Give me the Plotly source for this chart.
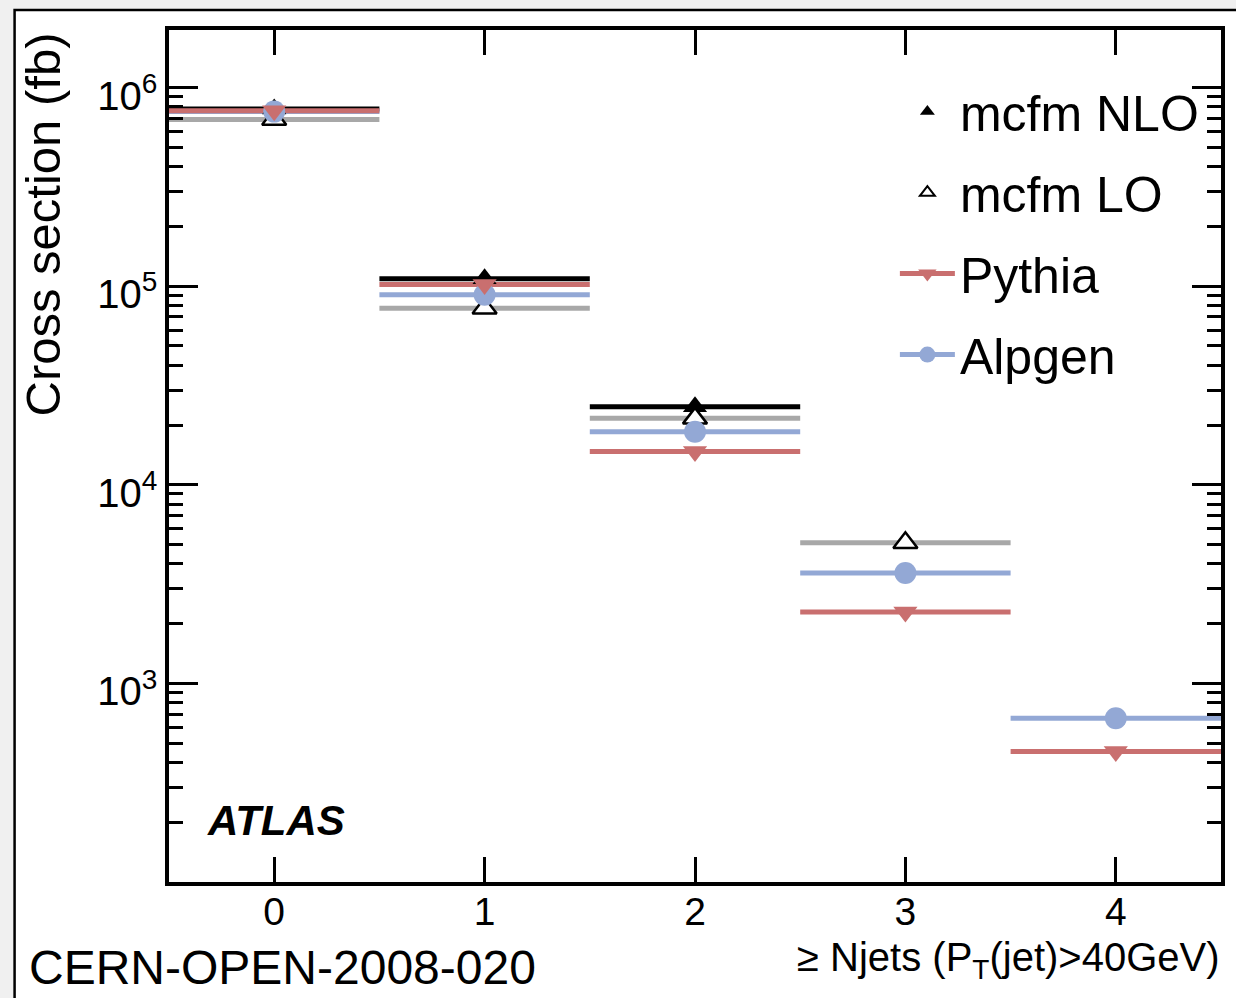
import plotly.graph_objects as go

# ---- data ----
njets = [0, 1, 2, 3, 4]
mcfm_nlo = [7.8e5, 1.09e5, 2.47e4, None, None]
mcfm_lo = [6.9e5, 7.74e4, 2.16e4, 5.11e3, None]
alpgen = [7.57e5, 9.06e4, 1.85e4, 3.6e3, 667]
pythia = [7.65e5, 1.02e5, 1.47e4, 2.29e3, 454]
ytick_vals = [1e3, 1e4, 1e5, 1e6]
ytick_text = ["10<sup>3</sup>", "10<sup>4</sup>", "10<sup>5</sup>", "10<sup>6</sup>"]

BLACK = "#000000"
GREY = "#a8a8a8"
BLUE = "#93a8d5"
RED = "#c96f6f"
FONT = "Liberation Sans, Arial, sans-serif"

def segments(vals):
    xs, ys = [], []
    for c, v in zip(njets, vals):
        if v is None:
            continue
        xs += [c - 0.5, c + 0.5, None]
        ys += [v, v, None]
    return xs, ys

fig = go.Figure()

series = [
    ("mcfm NLO", mcfm_nlo, BLACK, "triangle-up", dict(color=BLACK, size=21)),
    ("mcfm LO", mcfm_lo, GREY, "triangle-up", dict(color="white", size=21, line=dict(color=BLACK, width=2.5))),
    ("Alpgen", alpgen, BLUE, "circle", dict(color=BLUE, size=22)),
    ("Pythia", pythia, RED, "triangle-down", dict(color=RED, size=21)),
]
for name, vals, col, sym, mk in series:
    xs, ys = segments(vals)
    fig.add_trace(go.Scatter(x=xs, y=ys, mode="lines", line=dict(color=col, width=5),
                             showlegend=False, hoverinfo="skip"))
for name, vals, col, sym, mk in series:
    fig.add_trace(go.Scatter(x=njets, y=vals, mode="markers",
                             marker=dict(symbol=sym, **mk), showlegend=False))

# legend entries
fig.add_trace(go.Scatter(x=[None], y=[None], mode="markers", name="mcfm NLO",
                         marker=dict(symbol="triangle-up", color=BLACK, size=13),
                         legendgroup="a"))
fig.add_trace(go.Scatter(x=[None], y=[None], mode="markers", name="mcfm LO",
                         marker=dict(symbol="triangle-up-open", color=BLACK, size=13,
                                     line=dict(width=2)),
                         legendgroup="b"))
fig.add_trace(go.Scatter(x=[None], y=[None], mode="lines+markers", name="Pythia",
                         line=dict(color=RED, width=5),
                         marker=dict(symbol="triangle-down", color=RED, size=16),
                         legendgroup="c"))
fig.add_trace(go.Scatter(x=[None], y=[None], mode="lines+markers", name="Alpgen",
                         line=dict(color=BLUE, width=5),
                         marker=dict(symbol="circle", color=BLUE, size=16),
                         legendgroup="d"))

fig.update_layout(
    width=1236, height=998,
    margin=dict(l=169, r=11, t=30, b=116),
    paper_bgcolor="#f0f0f0",
    plot_bgcolor="white",
    font=dict(family=FONT, color="black"),
    legend=dict(x=0.69, y=0.95, xanchor="left", yanchor="top",
                font=dict(size=50, family=FONT), itemwidth=55,
                bgcolor="rgba(0,0,0,0)", tracegroupgap=13, itemsizing="trace"),
    xaxis=dict(range=[-0.5, 4.5], tickvals=njets, ticks="inside", ticklen=25,
               tickwidth=2.5, tickcolor="black", showline=True, linewidth=3.5,
               linecolor="black", mirror="allticks", showgrid=False, zeroline=False,
               tickfont=dict(size=39, family=FONT), ticklabelstandoff=-8),
    yaxis=dict(type="log", range=[2, 6.29], tickvals=ytick_vals, ticktext=ytick_text,
               ticks="inside", ticklen=29, tickwidth=2.5, tickcolor="black",
               showline=True, linewidth=3.5, linecolor="black", mirror="allticks",
               showgrid=False, zeroline=False, tickfont=dict(size=40, family=FONT),
               ticklabelshift=8,
               minor=dict(ticks="inside", ticklen=14, tickwidth=2.5, tickcolor="black",
                          dtick="D1", showgrid=False)),
    shapes=[dict(type="rect", xref="paper", yref="paper", layer="below",
                 x0=(14 - 169) / 1056, x1=(1245 - 169) / 1056,
                 y0=(882 - 1010) / 852, y1=(882 - 10) / 852,
                 line=dict(color="black", width=2.5), fillcolor="white")],
    annotations=[
        dict(text="Cross section (fb)", textangle=-90, xref="paper", yref="paper",
             x=(43 - 169) / 1056, y=1.0, xanchor="center", yanchor="top",
             showarrow=False, font=dict(size=49, family=FONT)),
        dict(text="\u2265 Njets (P<sub>T</sub>(jet)>40GeV)", xref="paper", yref="paper",
             x=(1226 - 169) / 1056, y=(882 - 960) / 852, xanchor="right", yanchor="middle",
             showarrow=False, font=dict(size=40, family=FONT)),
        dict(text="CERN-OPEN-2008-020", xref="paper", yref="paper",
             x=(26 - 169) / 1056, y=(882 - 967) / 852, xanchor="left", yanchor="middle",
             showarrow=False, font=dict(size=48, family=FONT)),
        dict(text="<b><i>ATLAS</i></b>", xref="paper", yref="paper",
             x=(205 - 169) / 1056, y=(882 - 820) / 852, xanchor="left", yanchor="middle",
             showarrow=False, font=dict(size=42, family=FONT)),
    ],
)

fig.write_html("out.html", config={"displayModeBar": False},
               post_script="document.body.style.margin='0';")
